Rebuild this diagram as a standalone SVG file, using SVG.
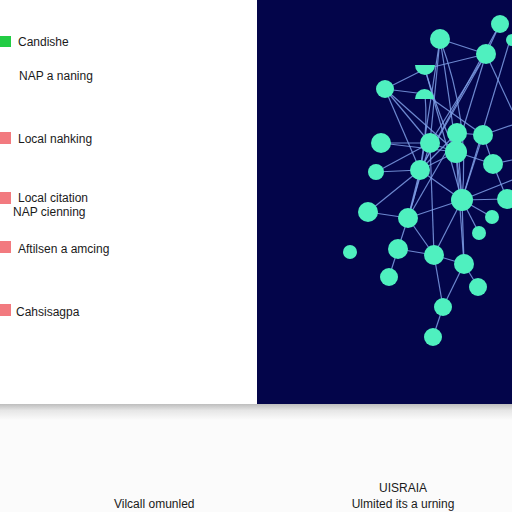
<svg xmlns="http://www.w3.org/2000/svg" width="512" height="512" viewBox="0 0 512 512">
<defs>
<style>
.t{font-family:"Liberation Sans",Arial,sans-serif;font-size:12px;fill:#1a1a1a}
.n{fill:#4ff0bf}
.e{stroke:#7f9fe6;stroke-width:1.2;fill:none;opacity:0.85}
.g{fill:#22cc44}
.r{fill:#f27a7f}
</style>
<linearGradient id="sh" x1="0" y1="0" x2="0" y2="1">
<stop offset="0" stop-color="#bdbdbd"/>
<stop offset="0.4" stop-color="#e6e6e6"/>
<stop offset="1" stop-color="#fbfbfb"/>
</linearGradient>
</defs>
<rect width="512" height="512" fill="#fbfbfb"/>
<rect x="0" y="0" width="257" height="404" fill="#ffffff"/>
<rect x="257" y="0" width="255" height="404" fill="#03054a"/>
<rect x="0" y="404" width="512" height="16" fill="url(#sh)"/>

<g id="legend">
<g id="l1"><rect class="g" x="0" y="36" width="11" height="11"/><text class="t" x="18" y="46">Candishe</text></g>
<g id="l2"><text class="t" x="19" y="80">NAP a naning</text></g>
<g id="l3"><rect class="r" x="0" y="132" width="11" height="12"/><text class="t" x="18" y="143">Local nahking</text></g>
<g id="l4"><rect class="r" x="0" y="192" width="11" height="12"/><text class="t" x="18" y="202">Local citation</text><text class="t" x="13" y="216">NAP cienning</text></g>
<g id="l5"><rect class="r" x="0" y="241" width="11" height="12"/><text class="t" x="18" y="253">Aftilsen a amcing</text></g>
<g id="l6"><rect class="r" x="0" y="304" width="11" height="12"/><text class="t" x="16" y="316">Cahsisagpa</text></g>
</g>

<g id="captions">
<text class="t" x="114" y="508">Vilcall omunled</text>
<text class="t" x="403" y="492" text-anchor="middle">UISRAIA</text>
<text class="t" x="403" y="508" text-anchor="middle">Ulmited its a urning</text>
</g>

<g id="connectors">
<path class="e" d="M440,39 L486,54"/>
<path class="e" d="M440,39 L430,143"/>
<path class="e" d="M440,39 Q450,100 456,152"/>
<path class="e" d="M440,39 L420,170"/>
<path class="e" d="M440,39 Q470,120 462,200"/>
<path class="e" d="M500,24 L486,54"/>
<path class="e" d="M500,24 L420,170"/>
<path class="e" d="M486,54 L430,143"/>
<path class="e" d="M486,54 L420,170"/>
<path class="e" d="M486,54 L456,152"/>
<path class="e" d="M486,54 L425,69"/>
<path class="e" d="M510,40 L462,200"/>
<path class="e" d="M385,89 L430,143"/>
<path class="e" d="M385,89 L420,170"/>
<path class="e" d="M385,89 L425,94"/>
<path class="e" d="M385,89 L425,69"/>
<path class="e" d="M385,89 L456,152"/>
<path class="e" d="M425,69 Q440,120 456,152"/>
<path class="e" d="M425,69 Q445,140 462,200"/>
<path class="e" d="M425,94 Q430,150 408,218"/>
<path class="e" d="M425,94 L483,135"/>
<path class="e" d="M381,143 L430,143"/>
<path class="e" d="M381,143 L456,152"/>
<path class="e" d="M376,172 L420,170"/>
<path class="e" d="M376,172 L430,143"/>
<path class="e" d="M420,170 L457,133"/>
<path class="e" d="M420,170 L456,152"/>
<path class="e" d="M430,143 L456,152"/>
<path class="e" d="M457,133 L456,152"/>
<path class="e" d="M457,133 L483,135"/>
<path class="e" d="M483,135 L493,164"/>
<path class="e" d="M456,152 L493,164"/>
<path class="e" d="M456,152 L462,200"/>
<path class="e" d="M420,170 L408,218"/>
<path class="e" d="M420,170 L462,200"/>
<path class="e" d="M368,212 L408,218"/>
<path class="e" d="M368,212 L420,170"/>
<path class="e" d="M408,218 L462,200"/>
<path class="e" d="M408,218 L398,249"/>
<path class="e" d="M408,218 L434,255"/>
<path class="e" d="M462,200 L434,255"/>
<path class="e" d="M462,200 L464,264"/>
<path class="e" d="M462,200 L507,199"/>
<path class="e" d="M462,200 L492,217"/>
<path class="e" d="M462,200 L479,233"/>
<path class="e" d="M398,249 L389,277"/>
<path class="e" d="M398,249 L434,255"/>
<path class="e" d="M434,255 L464,264"/>
<path class="e" d="M464,264 L478,287"/>
<path class="e" d="M464,264 L443,307"/>
<path class="e" d="M434,255 L443,307"/>
<path class="e" d="M443,307 L433,337"/>
<path class="e" d="M457,133 L462,200"/>
<path class="e" d="M483,135 L462,200"/>
<path class="e" d="M493,164 L507,199"/>
<path class="e" d="M456,152 L464,264"/>
<path class="e" d="M430,143 L408,218"/>
<path class="e" d="M430,143 L434,255"/>
<path class="e" d="M493,164 L512,160"/>
<path class="e" d="M483,135 L512,125"/>
<path class="e" d="M462,200 L512,180"/>
<path class="e" d="M486,54 L512,110"/>
<path class="e" d="M408,218 L457,133"/>
</g>

<g id="nodes">
<g id="n1"><circle class="n" cx="440" cy="39" r="10"/></g>
<g id="n2"><circle class="n" cx="500" cy="24" r="9"/></g>
<g id="n3"><circle class="n" cx="486" cy="54" r="10"/></g>
<g id="n4"><circle class="n" cx="385" cy="89" r="9"/></g>
<g id="n5"><path class="n" d="M415,65 L435,65 A10,10 0 0 1 415,65 Z"/></g>
<g id="n6"><path class="n" d="M415,99 A9.5,10 0 0 1 434,99 Z"/></g>
<g id="n7"><circle class="n" cx="381" cy="143" r="10"/></g>
<g id="n8"><circle class="n" cx="430" cy="143" r="10"/></g>
<g id="n9"><circle class="n" cx="457" cy="133" r="10"/></g>
<g id="n10"><circle class="n" cx="483" cy="135" r="10"/></g>
<g id="n11"><circle class="n" cx="456" cy="152" r="11"/></g>
<g id="n12"><circle class="n" cx="493" cy="164" r="10"/></g>
<g id="n13"><circle class="n" cx="376" cy="172" r="8"/></g>
<g id="n14"><circle class="n" cx="420" cy="170" r="10"/></g>
<g id="n15"><circle class="n" cx="512" cy="40" r="6"/></g>
<g id="n16"><circle class="n" cx="507" cy="199" r="10"/></g>
<g id="n17"><circle class="n" cx="368" cy="212" r="10"/></g>
<g id="n18"><circle class="n" cx="408" cy="218" r="10"/></g>
<g id="n19"><circle class="n" cx="462" cy="200" r="11"/></g>
<g id="n20"><circle class="n" cx="492" cy="217" r="7"/></g>
<g id="n21"><circle class="n" cx="479" cy="233" r="7"/></g>
<g id="n22"><circle class="n" cx="350" cy="252" r="7"/></g>
<g id="n23"><circle class="n" cx="398" cy="249" r="10"/></g>
<g id="n24"><circle class="n" cx="434" cy="255" r="10"/></g>
<g id="n25"><circle class="n" cx="464" cy="264" r="10"/></g>
<g id="n26"><circle class="n" cx="389" cy="277" r="9"/></g>
<g id="n27"><circle class="n" cx="478" cy="287" r="9"/></g>
<g id="n28"><circle class="n" cx="443" cy="307" r="9"/></g>
<g id="n29"><circle class="n" cx="433" cy="337" r="9"/></g>
</g>
</svg>
